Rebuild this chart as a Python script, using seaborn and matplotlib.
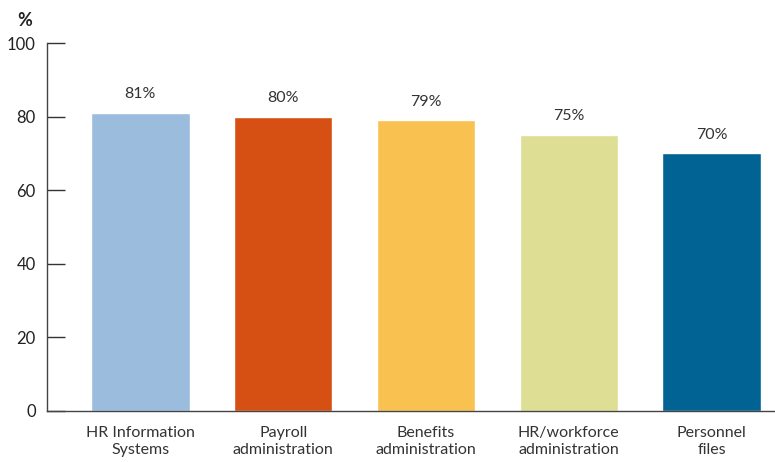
import matplotlib
matplotlib.use("Agg")
import matplotlib.pyplot as plt
import seaborn as sns
import pandas as pd

categories = ["HR Information\nSystems", "Payroll\nadministration", "Benefits\nadministration",
              "HR/workforce\nadministration", "Personnel\nfiles"]
values = [81, 80, 79, 75, 70]
colors = ["#9BBCDD", "#D64F13", "#F9C150", "#DEDE94", "#006393"]
yticks = [0, 20, 40, 60, 80, 100]

sns.set_theme(style="white")
plt.rcParams["font.family"] = ["Lato", "DejaVu Sans"]

df = pd.DataFrame({"cat": categories, "val": values})

fig = plt.figure(figsize=(7.75, 4.62), dpi=100)
ax = fig.add_axes([0.0606, 0.1104, 0.9394, 0.7965])

sns.barplot(data=df, x="cat", y="val", hue="cat", palette=colors, legend=False,
            width=0.69, saturation=1, ax=ax)

for i, v in enumerate(values):
    ax.text(i, v + 3.2, f"{v}%", ha="center", va="bottom", fontsize=11.5, color="#333333")

ax.set_xlim(-0.654, 4.444)
ax.set_ylim(0, 100)
ax.set_yticks(yticks)
ax.set_xlabel("")
ax.set_ylabel("")
ax.tick_params(axis="y", direction="in", length=13, width=1, color="#333333",
               labelsize=12, labelcolor="#222222", pad=8, left=True)
ax.tick_params(axis="x", length=0, labelsize=11.5, labelcolor="#333333", pad=11)
for lbl in ax.get_xticklabels():
    lbl.set_linespacing(1.25)
for s in ["top", "right"]:
    ax.spines[s].set_visible(False)
for s in ["left", "bottom"]:
    ax.spines[s].set_color("#444444")
    ax.spines[s].set_linewidth(1)

fig.text(0.032, 0.955, "%", fontsize=13, fontweight="bold", color="#222222", ha="center", va="center")

fig.savefig("out.png", dpi=100)
